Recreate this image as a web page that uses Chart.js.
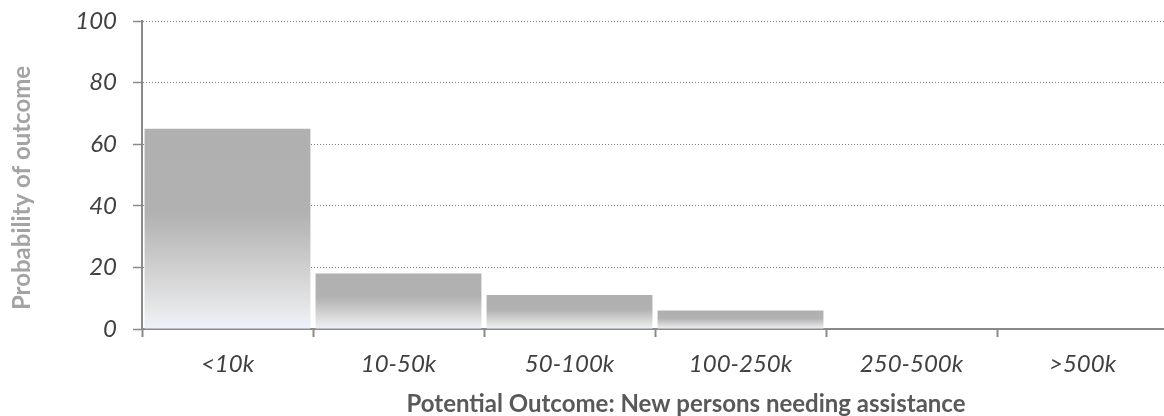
<!DOCTYPE html>
<html>
<head>
<meta charset="utf-8">
<script src="https://cdn.jsdelivr.net/npm/chart.js@4/dist/chart.umd.min.js"></script>
<style>
  html, body { margin: 0; padding: 0; background: #ffffff; overflow: hidden; }
  #wrap { position: relative; width: 1168px; height: 416px; }
</style>
</head>
<body>
<div id="wrap"><canvas id="chart"></canvas></div>
<script>
// Outcome bins and the probability (%) assigned to each
const categories = ['<10k', '10-50k', '50-100k', '100-250k', '250-500k', '>500k'];
const probabilities = [65, 18, 11, 6, 0, 0];
const yTickValues = [0, 20, 40, 60, 80, 100];

const xAxisTitle = 'Potential Outcome: New persons needing assistance';
const yAxisTitle = 'Probability of outcome';

const AXIS_GREY = '#8a8a8a';
const TICK_FONT = { family: 'Lato', size: 24, style: 'italic' };

// Grey-to-pale gradient running from each bar's top down to the baseline
function barFill(ctx) {
  const chart = ctx.chart;
  const yScale = chart.scales.y;
  if (!chart.chartArea || !yScale || ctx.raw === undefined) return '#b0b0b0';
  const top = yScale.getPixelForValue(ctx.raw);
  const base = yScale.getPixelForValue(0);
  if (!(base - top > 1)) return '#b0b0b0';
  const g = chart.ctx.createLinearGradient(0, top, 0, base);
  g.addColorStop(0, '#b0b0b0');
  g.addColorStop(0.42, '#b1b1b1');
  g.addColorStop(0.7, '#d0d0d0');
  g.addColorStop(0.9, '#e6e7e9');
  g.addColorStop(1, '#edf2fc');
  return g;
}

// Axis captions painted at fixed spots around the plot
const axisCaptions = {
  id: 'axisCaptions',
  afterDraw(chart) {
    const c = chart.ctx;
    c.save();
    c.textAlign = 'center';
    c.textBaseline = 'middle';
    c.fillStyle = '#595959';
    c.font = 'bold 24px Lato';
    c.fillText(xAxisTitle, 686, 404);
    c.translate(22, 188);
    c.rotate(-Math.PI / 2);
    c.fillStyle = '#a3a3a3';
    c.font = 'bold 24px Lato';
    c.fillText(yAxisTitle, 0, 0);
    c.restore();
  }
};

new Chart(document.getElementById('chart'), {
  type: 'bar',
  data: {
    labels: categories,
    datasets: [{
      data: probabilities,
      backgroundColor: barFill,
      borderWidth: 0,
      categoryPercentage: 1,
      barPercentage: 0.97
    }]
  },
  options: {
    responsive: true,
    maintainAspectRatio: false,
    animation: false,
    events: [],
    layout: { padding: { top: 21, right: 0, bottom: 0, left: 0 } },
    plugins: {
      legend: { display: false },
      tooltip: { enabled: false },
      title: { display: false }
    },
    scales: {
      x: {
        offset: true,
        afterFit(scale) {
          scale.height = 87;
          scale.paddingLeft = 0;
          scale.paddingRight = 0;
        },
        grid: {
          display: true,
          offset: true,
          drawOnChartArea: false,
          drawTicks: true,
          tickLength: 8,
          tickColor: AXIS_GREY,
          tickWidth: 2,
          color: AXIS_GREY
        },
        border: { display: true, color: AXIS_GREY, width: 2 },
        ticks: {
          color: '#404040',
          font: TICK_FONT,
          padding: 13,
          maxRotation: 0,
          autoSkip: false
        }
      },
      y: {
        min: yTickValues[0],
        max: yTickValues[yTickValues.length - 1],
        afterFit(scale) {
          scale.width = 142;
          scale.paddingTop = 0;
          scale.paddingBottom = 0;
        },
        afterBuildTicks(scale) { scale.ticks = yTickValues.map(v => ({ value: v })); },
        grid: {
          color: '#7d7d7d',
          lineWidth: 1,
          drawTicks: true,
          tickLength: 9,
          tickColor: AXIS_GREY,
          tickWidth: 1.5,
          tickBorderDash: []
        },
        border: { display: true, color: AXIS_GREY, width: 2, dash: [1, 2] },
        ticks: {
          color: '#404040',
          font: TICK_FONT,
          padding: 16
        }
      }
    }
  },
  plugins: [axisCaptions]
});
</script>
</body>
</html>
